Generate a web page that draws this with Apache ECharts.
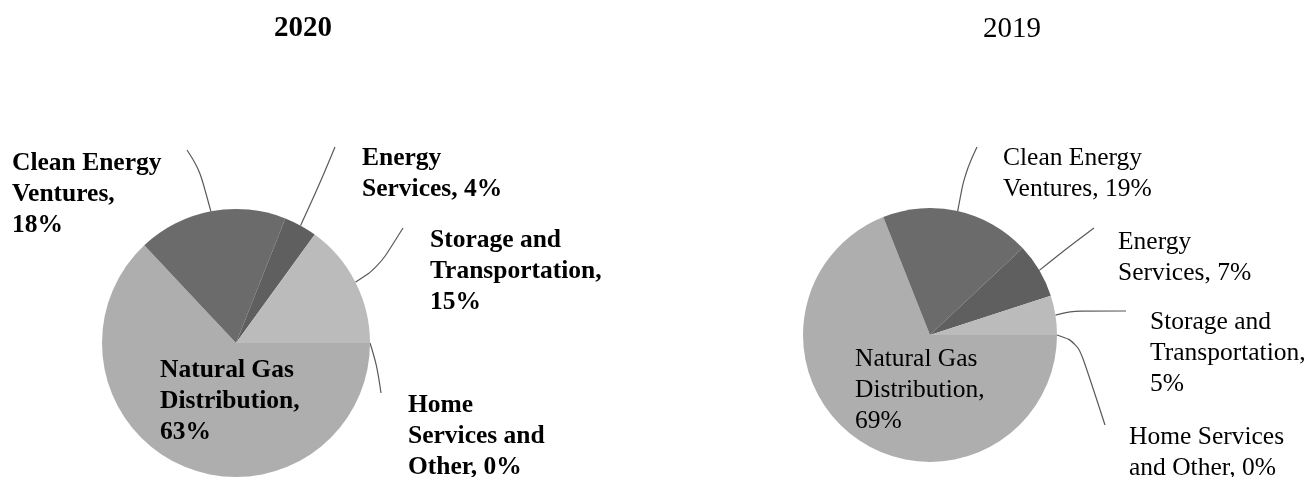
<!DOCTYPE html>
<html><head><meta charset="utf-8">
<script src="https://cdn.jsdelivr.net/npm/echarts@6/dist/echarts.min.js"></script>
<style>html,body{margin:0;padding:0;background:#fff}#c{width:1309px;height:477px}</style>
</head><body><div id="c"></div>
<script>
// ---------- data ----------
const categories = ['Natural Gas Distribution', 'Clean Energy Ventures', 'Energy Services', 'Storage and Transportation', 'Home Services and Other'];
const values2020 = [63, 18, 4, 15, 0];
const values2019 = [69, 19, 7, 5, 0];
const years = ['2020', '2019'];
// label wrapping as in the original ({v} = value)
const labelText2020 = ['Natural Gas\nDistribution,\n{v}%', 'Clean Energy\nVentures,\n{v}%', 'Energy\nServices, {v}%', 'Storage and\nTransportation,\n{v}%', 'Home\nServices and\nOther, {v}%'];
const labelText2019 = ['Natural Gas\nDistribution,\n{v}%', 'Clean Energy\nVentures, {v}%', 'Energy\nServices, {v}%', 'Storage and\nTransportation,\n{v}%', 'Home Services\nand Other, {v}%'];

// ---------- layout / style ----------
const sliceColors = ['#aeaeae', '#6b6b6b', '#5f5f5f', '#bbbbbb', '#8c8c8c'];
const pies = [
  { center: [236, 343], r: 134, bold: true, titleX: 303,
    labelPos: [[160, 355], [12, 148], [362, 143], [430, 225], [408, 390]],
    linePts: [null,
      [[199, 168], [187, 150]],
      [[318, 188], [335, 147]],
      [[378, 268], [403, 228]],
      [[377, 365], [381, 393]]] },
  { center: [930, 335], r: 127, bold: false, titleX: 1012,
    labelPos: [[855, 344], [1003, 143], [1118, 227], [1150, 307], [1129, 422]],
    linePts: [null,
      [[965, 172], [977, 147]],
      [[1062, 252], [1094, 228]],
      [[1070, 311], [1126, 311]],
      [[1078, 342], [1105, 425]]] }
];
const FONT = '"Liberation Serif", "Times New Roman", serif';

function makeSeries(values, texts, p) {
  return {
    type: 'pie',
    center: p.center,
    radius: p.r,
    startAngle: 0,
    clockwise: true,
    avoidLabelOverlap: false,
    silent: true,
    animation: false,
    data: categories.map((name, i) => ({
      name, value: values[i],
      itemStyle: { color: sliceColors[i] },
      labelLine: { show: i !== 0 }
    })),
    label: {
      show: true,
      position: 'outside',
      formatter: (prm) => texts[prm.dataIndex].replace('{v}', prm.value),
      fontFamily: FONT,
      fontSize: 25.5,
      lineHeight: 31,
      fontWeight: p.bold ? 'bold' : 'normal',
      color: '#000',
      align: 'left'
    },
    labelLine: {
      show: true,
      smooth: 0.4,
      lineStyle: { color: '#5a5a5a', width: 1.2 }
    },
    labelLayout: function (prm) {
      const pos = p.labelPos[prm.dataIndex];
      const res = { x: pos[0], y: pos[1], align: 'left', verticalAlign: 'top' };
      const lp = p.linePts[prm.dataIndex];
      if (lp && prm.labelLinePoints && prm.labelLinePoints.length) {
        res.labelLinePoints = [prm.labelLinePoints[0]].concat(lp);
      }
      return res;
    }
  };
}

const chart = echarts.init(document.getElementById('c'), null, { renderer: 'canvas' });
chart.setOption({
  backgroundColor: '#fff',
  animation: false,
  graphic: years.map((y, i) => ({
    type: 'text',
    x: pies[i].titleX,
    y: 29,
    style: {
      text: y,
      font: (pies[i].bold ? 'bold ' : '') + '29px ' + FONT,
      fill: '#000',
      textAlign: 'center',
      textVerticalAlign: 'middle'
    }
  })),
  series: [
    makeSeries(values2020, labelText2020, pies[0]),
    makeSeries(values2019, labelText2019, pies[1])
  ]
});
</script>
</body></html>
